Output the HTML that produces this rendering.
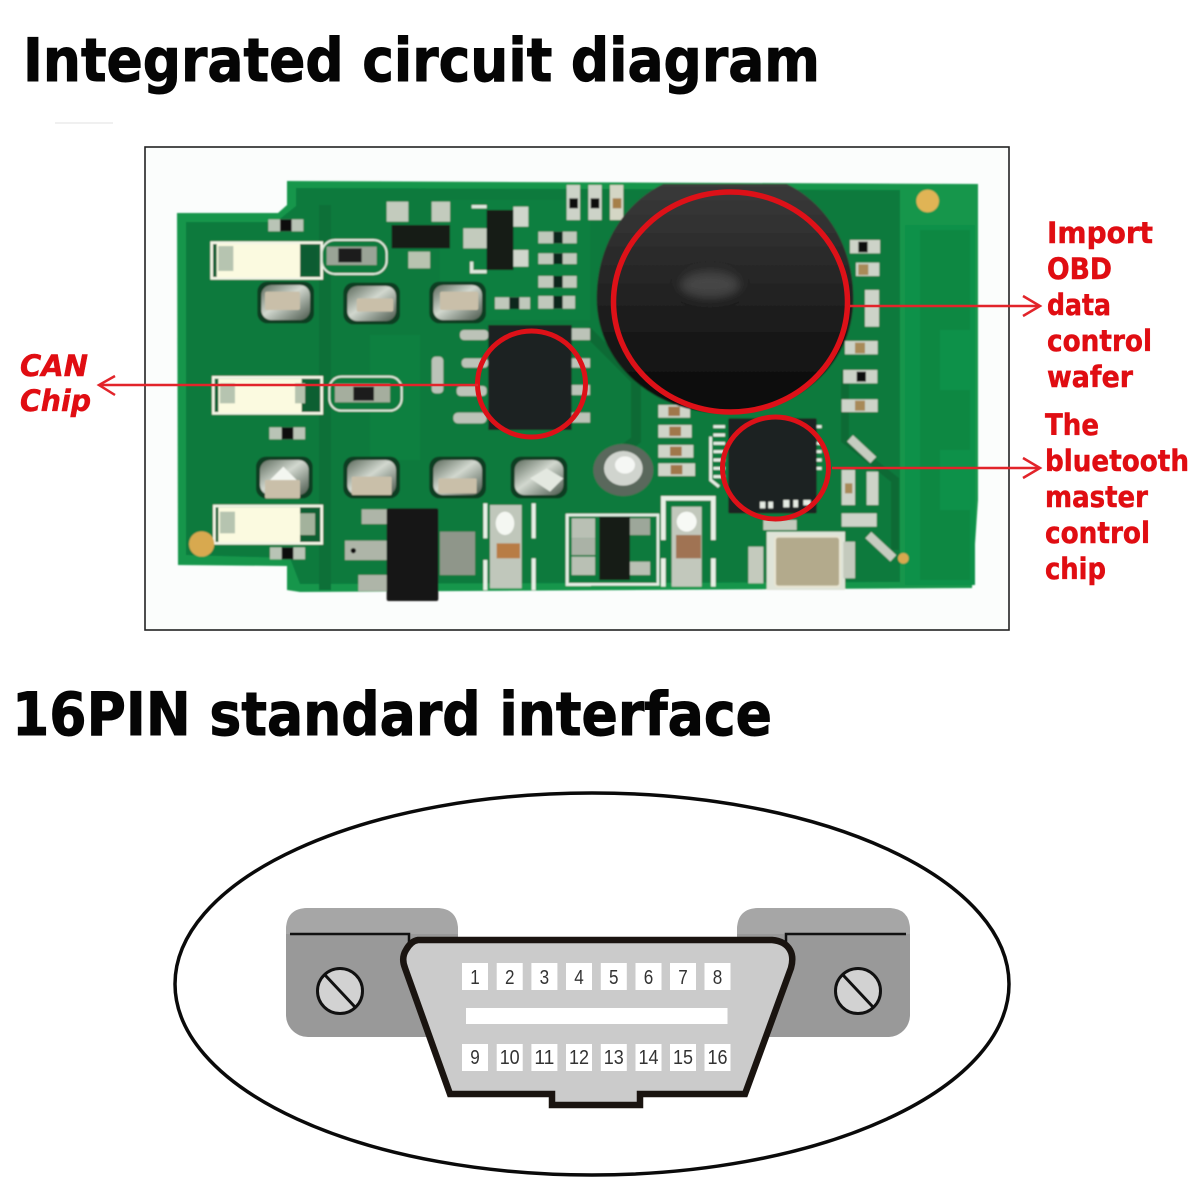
<!DOCTYPE html>
<html><head><meta charset="utf-8"><title>Integrated circuit diagram</title>
<style>html,body{margin:0;padding:0;background:#fff}svg{display:block}
text{font-family:"DejaVu Sans","Liberation Sans",sans-serif;font-weight:700}
.h{fill:#050505;stroke:#050505;stroke-width:1}
.r text{fill:#e00d12;font-size:29px;stroke:#e00d12;stroke-width:.5}
.n text{font-family:"Liberation Sans",sans-serif;font-weight:400;font-size:20px;fill:#333;text-anchor:middle}</style></head><body>
<svg width="1200" height="1200" viewBox="0 0 1200 1200" xmlns="http://www.w3.org/2000/svg">
<defs>
<filter id="b" x="-5%" y="-5%" width="110%" height="110%"><feGaussianBlur stdDeviation="0.8"/></filter>
<filter id="b3" x="-50%" y="-50%" width="200%" height="200%"><feGaussianBlur stdDeviation="14"/></filter>
<linearGradient id="blob" x1="0" y1="0" x2="0" y2="1"><stop offset="0" stop-color="#3a3a3a"/><stop offset=".4" stop-color="#262626"/><stop offset=".75" stop-color="#141414"/><stop offset="1" stop-color="#0a0a0a"/></linearGradient>
<linearGradient id="silver" x1="0" y1="0" x2="1" y2="1"><stop offset="0" stop-color="#5d6b5d"/><stop offset=".45" stop-color="#d2d8cf"/><stop offset="1" stop-color="#4a584c"/></linearGradient>
<g id="cap"><rect width="170" height="125" rx="30" fill="#0a3d22"/><rect x="12" y="10" width="146" height="105" rx="30" fill="url(#silver)"/></g>
</defs>
<rect width="1200" height="1200" fill="#fff"/>
<rect x="55" y="122" width="58" height="2" fill="#f0f0f0"/>
<text class="h" x="23" y="81" font-size="60" textLength="797" lengthAdjust="spacingAndGlyphs">Integrated circuit diagram</text>
<rect x="145" y="147" width="864" height="483" fill="#fbfdfc" stroke="#222" stroke-width="1.6"/>

<g filter="url(#b)">
<!-- board -->
<polygon points="177,213 278,213 287,205 287,181 978,184 978,500 972,588 300,592 287,590 287,566 178,565" fill="#14964c"/>
<polygon points="186,222 276,222 296,206 296,188 900,190 900,582 300,584 290,558 186,555" fill="#0b7a3e"/>
<rect x="905" y="225" width="70" height="360" fill="#0e9149"/>
<path d="M920 230h50v100h-30v60h30v60h-30v60h30v70h-50z" fill="#0c8843"/>
<rect x="319" y="205" width="12" height="385" fill="#0a7039"/>
<rect x="370" y="335" width="50" height="125" fill="#0c8040"/>
<rect x="440" y="200" width="150" height="120" fill="#0b7f40"/>
<path d="M586 330l50 50v60l-40 30" stroke="#0a6a36" stroke-width="10" fill="none"/>
<path d="M845 370v70l50 40v70" stroke="#0a6a36" stroke-width="8" fill="none"/>

<g transform="translate(170,170) scale(.33333)">
 <!-- LEDs -->
 <g><rect x="125" y="218" width="330" height="107" fill="#0b5f33" stroke="#f4f5e6" stroke-width="8"/><rect x="140" y="222" width="250" height="100" fill="#fbfae0"/><rect x="145" y="228" width="45" height="75" fill="#b6c4b0"/><rect x="395" y="232" width="45" height="75" fill="#0e5c33"/></g>
 <g><rect x="130" y="622" width="325" height="108" fill="#0b5f33" stroke="#f4f5e6" stroke-width="8"/><rect x="145" y="626" width="250" height="102" fill="#fbfae0"/><rect x="150" y="640" width="45" height="60" fill="#b6c4b0"/><rect x="375" y="640" width="30" height="60" fill="#b5c2ae"/></g>
 <g><rect x="133" y="1008" width="322" height="112" fill="#0b5f33" stroke="#f4f5e6" stroke-width="8"/><rect x="145" y="1012" width="245" height="104" fill="#fbfae0"/><rect x="150" y="1025" width="45" height="65" fill="#b6c4b0"/><rect x="390" y="1030" width="45" height="65" fill="#a3b29c"/></g>
 <!-- resistors -->
 <rect x="455" y="210" width="195" height="102" rx="40" fill="#0a7a3d" stroke="#dfe9dc" stroke-width="6"/>
 <rect x="470" y="230" width="150" height="55" fill="#9aa497"/><rect x="505" y="235" width="70" height="42" fill="#1c1c1c"/>
 <rect x="478" y="620" width="217" height="102" rx="36" fill="#0a7a3d" stroke="#dfe9dc" stroke-width="6"/>
 <rect x="495" y="642" width="165" height="55" fill="#a5ae9e"/><rect x="550" y="650" width="62" height="42" fill="#1c1c1c"/>
 <g fill="#b9c4b6"><rect x="295" y="148" width="105" height="36"/><rect x="298" y="772" width="107" height="36"/><rect x="300" y="1132" width="105" height="36"/></g>
 <g fill="#111"><rect x="330" y="148" width="35" height="36"/><rect x="335" y="772" width="35" height="36"/><rect x="335" y="1132" width="35" height="36"/></g>
 <!-- caps -->
 <use href="#cap" x="262" y="335"/><use href="#cap" x="520" y="338"/><use href="#cap" x="778" y="335"/>
 <use href="#cap" x="258" y="860"/><use href="#cap" x="520" y="860"/><use href="#cap" x="778" y="860"/>
 <use href="#cap" x="1022" y="860"/>
 <g fill="#c9bfa9"><rect x="285" y="365" width="105" height="55" rx="6"/><rect x="560" y="385" width="110" height="40" rx="6"/><rect x="810" y="365" width="115" height="55" rx="6"/><rect x="285" y="930" width="105" height="55" rx="4"/><rect x="545" y="920" width="120" height="55" rx="4"/><rect x="805" y="925" width="115" height="45" rx="4"/></g>
 <path d="M300 930l40-40 40 40z" fill="#f3f6f0"/><path d="M1080 925l50-30 50 30-40 40z" fill="#e3e8e0"/>
 <!-- transistors -->
 <rect x="650" y="95" width="65" height="60" fill="#c3cbbd"/><rect x="785" y="95" width="55" height="60" fill="#c3cbbd"/><rect x="715" y="245" width="65" height="50" fill="#b8c3b0"/>
 <rect x="665" y="165" width="175" height="70" fill="#161a18"/>
 <rect x="880" y="175" width="70" height="60" fill="#c3cbbd"/><rect x="1030" y="110" width="45" height="60" fill="#d0d6cc"/><rect x="1030" y="240" width="45" height="50" fill="#d0d6cc"/>
 <path d="M905 110h45M905 275v30h45" stroke="#dfe7dd" stroke-width="10" fill="none"/>
 <rect x="950" y="120" width="80" height="180" fill="#161a18"/>
 <!-- small parts -->
 <g fill="#c0c8bb"><rect x="1105" y="185" width="115" height="35"/><rect x="1105" y="250" width="115" height="32"/><rect x="1105" y="318" width="115" height="35"/><rect x="1105" y="378" width="110" height="38"/><rect x="975" y="382" width="105" height="35"/></g>
 <g fill="#10251a"><rect x="1150" y="185" width="28" height="35"/><rect x="1150" y="250" width="28" height="32"/><rect x="1150" y="318" width="28" height="35"/><rect x="1150" y="378" width="28" height="38"/><rect x="1018" y="382" width="30" height="35"/></g>
 <rect x="1195" y="50" width="35" height="100" fill="#c8cfc4"/><rect x="1200" y="85" width="25" height="32" fill="#111"/>
 <!-- IC pins -->
 <g fill="#bcc3b8"><rect x="870" y="480" width="85" height="30" rx="12"/><rect x="875" y="565" width="80" height="28" rx="12"/><rect x="860" y="648" width="90" height="30" rx="12"/><rect x="850" y="728" width="100" height="32" rx="14"/><rect x="1205" y="475" width="55" height="35"/><rect x="1205" y="565" width="55" height="28"/><rect x="1205" y="645" width="55" height="30"/><rect x="1205" y="728" width="55" height="30"/><rect x="785" y="560" width="35" height="110" rx="12"/></g>
 <rect x="955" y="465" width="250" height="315" fill="#1b2320"/>
 <!-- bottom regulator -->
 <g fill="#aeb5a8"><rect x="575" y="1018" width="85" height="44"/><rect x="525" y="1112" width="125" height="58"/><rect x="565" y="1215" width="90" height="48"/></g>
 <circle cx="550" cy="1142" r="8" fill="#111"/>
 <rect x="810" y="1085" width="105" height="130" fill="#8f968a"/>
 <rect x="650" y="1015" width="155" height="278" rx="6" fill="#191919"/>
 <rect x="940" y="1000" width="12" height="105" fill="#e9f0e6"/><rect x="1085" y="1000" width="12" height="105" fill="#e9f0e6"/><rect x="940" y="1170" width="12" height="90" fill="#e9f0e6"/><rect x="1085" y="1165" width="12" height="95" fill="#e9f0e6"/>
 <rect x="960" y="1005" width="95" height="250" fill="#c0c7bb"/><rect x="980" y="1120" width="70" height="45" fill="#b87c45"/><ellipse cx="1005" cy="1060" rx="28" ry="35" fill="#f4f7f2"/>
 <rect x="1190" y="1035" width="70" height="210" fill="#c6cabd" stroke="#e8eee6" stroke-width="6"/>
 <circle cx="95" cy="1122" r="38" fill="#d8a94f"/>
</g>

<g transform="translate(560,170) scale(.33333)">
 <rect x="20" y="45" width="40" height="105" fill="#cdd3c8"/><rect x="85" y="45" width="40" height="105" fill="#cdd3c8"/><rect x="150" y="45" width="40" height="105" fill="#d4d6c5"/>
 <rect x="28" y="85" width="26" height="30" fill="#111"/><rect x="92" y="85" width="26" height="30" fill="#111"/><rect x="158" y="85" width="26" height="30" fill="#a67f4a"/>
 <ellipse cx="1103" cy="93" rx="34" ry="34" fill="#e0b455"/>
 <!-- right side parts -->
 <g fill="#cdd3c8"><rect x="870" y="210" width="90" height="40"/><rect x="888" y="278" width="70" height="40"/><rect x="915" y="360" width="42" height="110"/><rect x="855" y="513" width="98" height="40"/><rect x="850" y="600" width="102" height="40"/><rect x="845" y="688" width="108" height="38"/><rect x="845" y="900" width="40" height="105"/><rect x="920" y="905" width="35" height="100"/><rect x="845" y="1030" width="105" height="40"/></g>
 <g fill="#a88a58"><rect x="895" y="283" width="30" height="32"/><rect x="885" y="518" width="30" height="32"/><rect x="885" y="692" width="30" height="30"/><rect x="855" y="940" width="22" height="30"/></g>
 <g fill="#111"><rect x="895" y="215" width="28" height="32"/><rect x="890" y="605" width="28" height="30"/></g>
 <path d="M870 805l70 65M925 1095l75 70" stroke="#c6ccc0" stroke-width="26"/>
 <circle cx="1030" cy="1165" r="16" fill="#d8a94f"/>
 <!-- 4 caps -->
 <g fill="#cfd4c8"><rect x="295" y="705" width="95" height="38"/><rect x="295" y="765" width="100" height="38"/><rect x="295" y="825" width="105" height="38"/><rect x="295" y="880" width="110" height="38"/></g>
 <g fill="#a0774c"><rect x="325" y="710" width="35" height="28"/><rect x="328" y="770" width="35" height="28"/><rect x="330" y="830" width="35" height="28"/><rect x="332" y="885" width="35" height="28"/></g>
 <!-- solder ball -->
 <ellipse cx="190" cy="900" rx="90" ry="78" fill="#5a685c"/><ellipse cx="190" cy="895" rx="58" ry="52" fill="#d0d4ce"/><ellipse cx="195" cy="885" rx="30" ry="26" fill="#f5f7f4"/>
 <!-- bottom parts -->
 <rect x="22" y="1035" width="272" height="208" fill="#0b7a3e" stroke="#e8eee6" stroke-width="8"/>
 <rect x="35" y="1045" width="70" height="60" fill="#b9c0b4"/><rect x="35" y="1105" width="70" height="50" fill="#aab2a6"/><rect x="35" y="1160" width="70" height="55" fill="#b9c0b4"/><rect x="210" y="1045" width="60" height="50" fill="#9da79a"/><rect x="210" y="1175" width="60" height="40" fill="#b9c0b4"/>
 <rect x="118" y="1040" width="92" height="190" fill="#171b19"/>
 <path d="M310 1110V985h150v125M310 1165v85M460 1165v85" stroke="#e9f0e6" stroke-width="14" fill="none"/>
 <rect x="335" y="1010" width="90" height="240" fill="#c2c8bc"/><rect x="348" y="1095" width="75" height="70" fill="#a07352"/><circle cx="380" cy="1055" r="30" fill="#f7f9f5"/>
 <rect x="565" y="1130" width="45" height="110" fill="#c4cabd"/>
 <rect x="620" y="1085" width="235" height="175" fill="#dfe4d8"/><rect x="645" y="1100" width="195" height="150" rx="10" fill="#b3aa8c" stroke="#e7e4d2" stroke-width="6"/><rect x="850" y="1115" width="35" height="110" fill="#c4cabd"/>
 <rect x="610" y="1050" width="100" height="30" fill="#c4cabd"/>
 <!-- QFN -->
 <g stroke="#e6ece4" stroke-width="9" fill="none"><path d="M460 770h35M460 795h35M460 820h35M460 845h35M460 870h35M460 895h35M460 920h35M760 770h25M760 820h25M760 845h25M760 870h25M760 895h25"/><path d="M452 800v130l25 20"/></g>
 <rect x="505" y="745" width="265" height="285" rx="4" fill="#1b2120"/>
 <g fill="#e6ece4"><rect x="600" y="995" width="16" height="20"/><rect x="625" y="995" width="14" height="20"/><rect x="670" y="990" width="18" height="22"/><rect x="700" y="990" width="14" height="22"/><rect x="730" y="990" width="22" height="16"/></g>
 <!-- blob -->
 <path d="M110 385C110 230 190 100 310 42H680C800 100 880 230 880 385C880 580 720 730 495 730C280 730 110 580 110 385Z" fill="url(#blob)"/>
 <ellipse cx="450" cy="345" rx="90" ry="40" fill="#666" opacity=".5" filter="url(#b3)"/>
</g>
</g>

<!-- red callouts -->
<g fill="none" stroke="#dd1118">
 <ellipse cx="531.500" cy="384" rx="54" ry="53" stroke-width="5"/>
 <ellipse cx="730.500" cy="302" rx="117" ry="110" stroke-width="5.500"/>
 <ellipse cx="775.500" cy="468" rx="53" ry="51" stroke-width="5"/>
 <g stroke-width="2.500" stroke="#e2242a">
  <path d="M100 385H478"/><path d="M115 376L99 385L115 395"/>
  <path d="M850 306H1039"/><path d="M1023 296L1040 306L1023 316"/>
  <path d="M832 468H1039"/><path d="M1023 458L1040 468L1023 478"/>
 </g>
</g>

<g class="r">
 <text x="1047" y="243" textLength="106" lengthAdjust="spacingAndGlyphs">Import</text>
 <text x="1047" y="279" textLength="65" lengthAdjust="spacingAndGlyphs">OBD</text>
 <text x="1047" y="315" textLength="64" lengthAdjust="spacingAndGlyphs">data</text>
 <text x="1047" y="351" textLength="105" lengthAdjust="spacingAndGlyphs">control</text>
 <text x="1047" y="387" textLength="86" lengthAdjust="spacingAndGlyphs">wafer</text>
 <text x="1045" y="435" textLength="54" lengthAdjust="spacingAndGlyphs">The</text>
 <text x="1045" y="471" textLength="144" lengthAdjust="spacingAndGlyphs">bluetooth</text>
 <text x="1045" y="507" textLength="103" lengthAdjust="spacingAndGlyphs">master</text>
 <text x="1045" y="543" textLength="105" lengthAdjust="spacingAndGlyphs">control</text>
 <text x="1045" y="579" textLength="61" lengthAdjust="spacingAndGlyphs">chip</text>
 <text x="20" y="376" textLength="68" lengthAdjust="spacingAndGlyphs" font-style="italic">CAN</text>
 <text x="20" y="411" textLength="71" lengthAdjust="spacingAndGlyphs" font-style="italic">Chip</text>
</g>

<text class="h" x="12" y="735" font-size="60" textLength="760" lengthAdjust="spacingAndGlyphs">16PIN standard interface</text>

<!-- connector -->
<ellipse cx="592" cy="984" rx="417" ry="191" fill="#fff" stroke="#0a0a0a" stroke-width="3.500"/>
<rect x="286" y="908" width="172" height="129" rx="22" fill="#999"/>
<rect x="737" y="908" width="173" height="129" rx="22" fill="#999"/>
<path d="M286 934V930Q286 908 308 908H436Q458 908 458 930V934Z" fill="#a6a6a6"/>
<path d="M737 934V930Q737 908 759 908H888Q910 908 910 930V934Z" fill="#a6a6a6"/>
<path d="M290 934H409V950M906 934H786V950" fill="none" stroke="#111" stroke-width="2.500"/>
<g fill="#d2d2d2" stroke="#111" stroke-width="3">
 <ellipse cx="340" cy="991" rx="22.500" ry="22.500"/><ellipse cx="858" cy="991" rx="22.500" ry="22.500"/>
 <path d="M325 975L355 1007M843 975L873 1007" fill="none"/>
</g>
<path d="M418 940H772Q785 941 790 950Q794 957 791 968L745 1094H640V1105H552V1094H450L405 968Q401 958 406 950Q411 941 418 940Z" fill="#cbcbcb" stroke="#1a1410" stroke-width="6.500" stroke-linejoin="miter"/>
<rect x="466" y="1008" width="261.500" height="16" fill="#fff"/>
<g fill="#fff">
 <rect x="462" y="963" width="26" height="27"/><rect x="496.700" y="963" width="26" height="27"/><rect x="531.400" y="963" width="26" height="27"/><rect x="566" y="963" width="26" height="27"/><rect x="600.800" y="963" width="26" height="27"/><rect x="635.500" y="963" width="26" height="27"/><rect x="670" y="963" width="26" height="27"/><rect x="704.500" y="963" width="26" height="27"/>
 <rect x="462" y="1044" width="26" height="27"/><rect x="496.700" y="1044" width="26" height="27"/><rect x="531.400" y="1044" width="26" height="27"/><rect x="566" y="1044" width="26" height="27"/><rect x="600.800" y="1044" width="26" height="27"/><rect x="635.500" y="1044" width="26" height="27"/><rect x="670" y="1044" width="26" height="27"/><rect x="704.500" y="1044" width="26" height="27"/>
</g>
<g class="n">
 <text x="475" y="984" textLength="9.500" lengthAdjust="spacingAndGlyphs">1</text><text x="509.700" y="984" textLength="9.500" lengthAdjust="spacingAndGlyphs">2</text><text x="544.400" y="984" textLength="9.500" lengthAdjust="spacingAndGlyphs">3</text><text x="579" y="984" textLength="9.500" lengthAdjust="spacingAndGlyphs">4</text><text x="613.800" y="984" textLength="9.500" lengthAdjust="spacingAndGlyphs">5</text><text x="648.500" y="984" textLength="9.500" lengthAdjust="spacingAndGlyphs">6</text><text x="683" y="984" textLength="9.500" lengthAdjust="spacingAndGlyphs">7</text><text x="717.500" y="984" textLength="9.500" lengthAdjust="spacingAndGlyphs">8</text>
 <text x="475" y="1064" textLength="9.500" lengthAdjust="spacingAndGlyphs">9</text><text x="509.700" y="1064" textLength="20" lengthAdjust="spacingAndGlyphs">10</text><text x="544.400" y="1064" textLength="20" lengthAdjust="spacingAndGlyphs">11</text><text x="579" y="1064" textLength="20" lengthAdjust="spacingAndGlyphs">12</text><text x="613.800" y="1064" textLength="20" lengthAdjust="spacingAndGlyphs">13</text><text x="648.500" y="1064" textLength="20" lengthAdjust="spacingAndGlyphs">14</text><text x="683" y="1064" textLength="20" lengthAdjust="spacingAndGlyphs">15</text><text x="717.500" y="1064" textLength="20" lengthAdjust="spacingAndGlyphs">16</text>
</g>
</svg>
</body></html>
